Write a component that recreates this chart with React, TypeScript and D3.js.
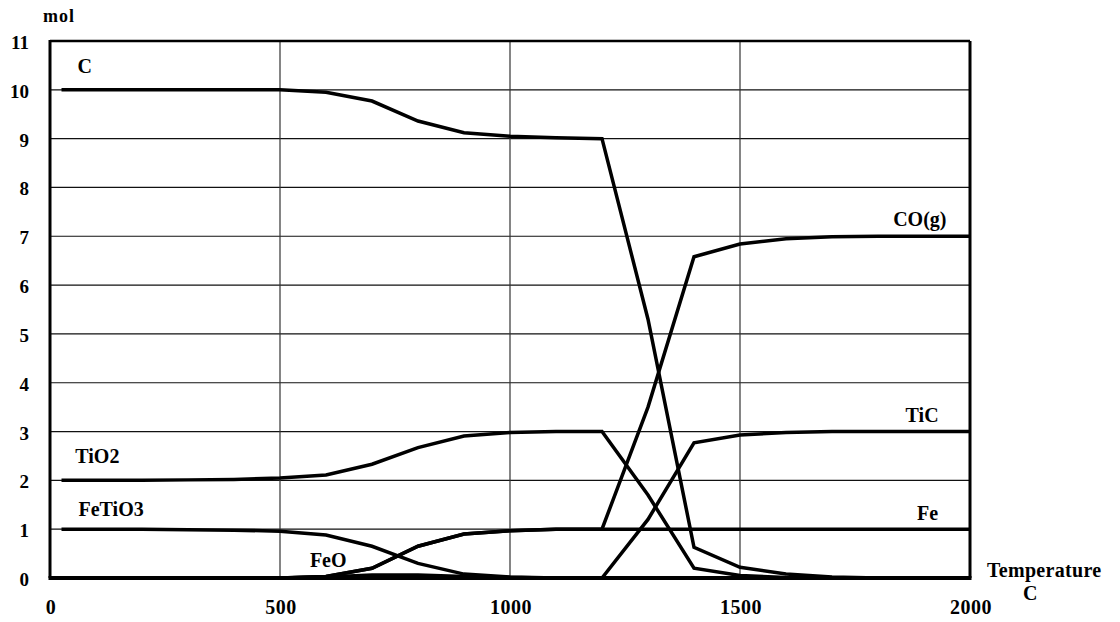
import React, { useRef, useEffect } from 'react';
import * as d3 from 'd3';

// temperature steps (C) and equilibrium amounts (mol)
const temps = [25, 100, 200, 300, 400, 500, 600, 700, 800, 900, 1000, 1100, 1200, 1300, 1400, 1500, 1600, 1700, 1800, 1900, 2000];
const carbon = [10, 10, 10, 10, 10, 10, 9.95, 9.77, 9.36, 9.12, 9.05, 9.02, 9.0, 5.3, 0.63, 0.22, 0.08, 0.02, 0, 0, 0];
const coGas = [0, 0, 0, 0, 0, 0, 0.03, 0.2, 0.65, 0.9, 0.97, 1, 1, 3.5, 6.58, 6.84, 6.95, 6.99, 7, 7, 7];
const tic = [0, 0, 0, 0, 0, 0, 0, 0, 0, 0, 0, 0, 0, 1.2, 2.77, 2.93, 2.98, 3, 3, 3, 3];
const tio2 = [2, 2, 2, 2.01, 2.02, 2.05, 2.11, 2.33, 2.67, 2.91, 2.98, 3, 3, 1.7, 0.2, 0.05, 0.01, 0, 0, 0, 0];
const fetio3 = [1, 1, 1, 0.99, 0.98, 0.96, 0.88, 0.65, 0.3, 0.08, 0.02, 0, 0, 0, 0, 0, 0, 0, 0, 0, 0];
const fe = [0, 0, 0, 0, 0, 0, 0.03, 0.2, 0.65, 0.9, 0.97, 1, 1, 1, 1, 1, 1, 1, 1, 1, 1];
const feo = [0, 0, 0, 0, 0, 0, 0.02, 0.06, 0.06, 0.03, 0.01, 0, 0, 0, 0, 0, 0, 0, 0, 0, 0];

const xTicks = [0, 500, 1000, 1500, 2000];
const yTicks = [0, 1, 2, 3, 4, 5, 6, 7, 8, 9, 10, 11];

const series = [
  { name: 'C', values: carbon },
  { name: 'CO(g)', values: coGas },
  { name: 'TiC', values: tic },
  { name: 'TiO2', values: tio2 },
  { name: 'FeTiO3', values: fetio3 },
  { name: 'Fe', values: fe },
  { name: 'FeO', values: feo },
];

// label anchor positions in data units [temperature, mol]
const labels = [
  { text: 'C', t: 60, m: 10.35 },
  { text: 'TiO2', t: 55, m: 2.35 },
  { text: 'FeTiO3', t: 62, m: 1.28 },
  { text: 'FeO', t: 565, m: 0.23 },
  { text: 'CO(g)', t: 1833, m: 7.22 },
  { text: 'TiC', t: 1860, m: 3.2 },
  { text: 'Fe', t: 1885, m: 1.19 },
];

const W = 1120;
const H = 622;
const margin = { top: 41, right: 150, bottom: 44, left: 50 };

export default function App() {
  const ref = useRef<SVGSVGElement>(null);

  useEffect(() => {
    const svg = d3.select(ref.current);
    svg.selectAll('*').remove();

    const x = d3.scaleLinear().domain([0, 2000]).range([margin.left, W - margin.right]);
    const y = d3.scaleLinear().domain([0, 11]).range([H - margin.bottom, margin.top]);
    const font = '"Liberation Serif", "Times New Roman", serif';

    // grid
    svg.append('g')
      .selectAll('line')
      .data(yTicks.slice(1, -1))
      .enter()
      .append('line')
      .attr('x1', x(0))
      .attr('x2', x(2000))
      .attr('y1', d => y(d))
      .attr('y2', d => y(d))
      .attr('stroke', '#111')
      .attr('stroke-width', 1.2);

    svg.append('g')
      .selectAll('line')
      .data(xTicks.slice(1, -1))
      .enter()
      .append('line')
      .attr('x1', d => x(d))
      .attr('x2', d => x(d))
      .attr('y1', y(0))
      .attr('y2', y(11))
      .attr('stroke', '#333')
      .attr('stroke-width', 1.2);

    // frame
    svg.append('line').attr('x1', x(0)).attr('x2', x(2000)).attr('y1', y(11)).attr('y2', y(11))
      .attr('stroke', '#000').attr('stroke-width', 2.5);
    svg.append('line').attr('x1', x(2000)).attr('x2', x(2000)).attr('y1', y(11)).attr('y2', y(0))
      .attr('stroke', '#000').attr('stroke-width', 3);
    svg.append('line').attr('x1', x(0)).attr('x2', x(0)).attr('y1', y(11) - 1).attr('y2', y(0))
      .attr('stroke', '#000').attr('stroke-width', 3);
    svg.append('line').attr('x1', x(0) - 1.5).attr('x2', x(2000) + 1.5).attr('y1', y(0)).attr('y2', y(0))
      .attr('stroke', '#000').attr('stroke-width', 4);

    // data lines
    const line = d3.line<number>()
      .x((d, i) => x(temps[i]))
      .y(d => y(d));

    svg.append('g')
      .selectAll('path')
      .data(series)
      .enter()
      .append('path')
      .attr('d', d => line(d.values))
      .attr('fill', 'none')
      .attr('stroke', '#000')
      .attr('stroke-width', 3.5)
      .attr('stroke-linejoin', 'miter');

    // y tick labels
    svg.append('g')
      .selectAll('text')
      .data(yTicks)
      .enter()
      .append('text')
      .attr('x', 29)
      .attr('y', d => y(d) + 8)
      .attr('text-anchor', 'end')
      .style('font-family', font)
      .style('font-weight', 'bold')
      .style('font-size', '19px')
      .text(d => d);

    // x tick labels
    svg.append('g')
      .selectAll('text')
      .data(xTicks)
      .enter()
      .append('text')
      .attr('x', d => x(d) + 1)
      .attr('y', 614)
      .attr('text-anchor', 'middle')
      .style('font-family', font)
      .style('font-weight', 'bold')
      .style('font-size', '20px')
      .style('letter-spacing', '0.5px')
      .text(d => d);

    // series labels
    svg.append('g')
      .selectAll('text')
      .data(labels)
      .enter()
      .append('text')
      .attr('x', d => x(d.t))
      .attr('y', d => y(d.m))
      .style('font-family', font)
      .style('font-weight', 'bold')
      .style('font-size', '20px')
      .text(d => d.text);

    // axis titles
    svg.append('text')
      .attr('x', 43).attr('y', 22)
      .style('font-family', font).style('font-weight', 'bold').style('font-size', '18px')
      .style('letter-spacing', '1px')
      .text('mol');
    svg.append('text')
      .attr('x', 987).attr('y', 577)
      .style('font-family', font).style('font-weight', 'bold').style('font-size', '20px')
      .style('letter-spacing', '0.3px')
      .text('Temperature');
    svg.append('text')
      .attr('x', 1023).attr('y', 600)
      .style('font-family', font).style('font-weight', 'bold').style('font-size', '20px')
      .text('C');
  }, []);

  return (
    <svg ref={ref} width={W} height={H} style={{ position: 'absolute', left: 0, top: 0, background: '#fff' }} />
  );
}
